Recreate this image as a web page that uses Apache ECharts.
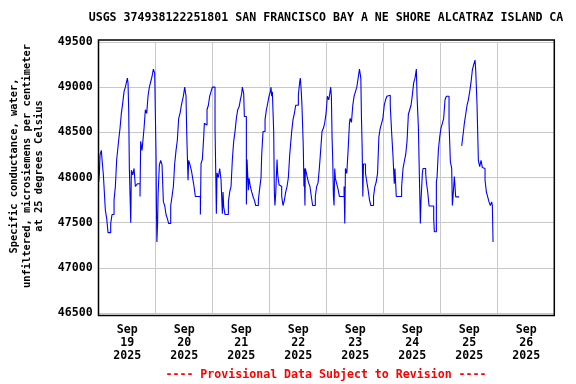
<!DOCTYPE html>
<html><head><meta charset="utf-8">
<script src="https://cdn.jsdelivr.net/npm/echarts@6/dist/echarts.min.js"></script>
<style>html,body{margin:0;padding:0;background:#fff}#c{width:576px;height:384px}</style>
</head><body><div id="c"></div>
<script>
const titleText = 'USGS 374938122251801 SAN FRANCISCO BAY A NE SHORE ALCATRAZ ISLAND CA';
const footerText = '---- Provisional Data Subject to Revision ----';
const yAxisNameLines = ['Specific conductance, water,', 'unfiltered, microsiemens per centimeter', 'at 25 degrees Celsius'];
const dayLabels = ['Sep\n19\n2025','Sep\n20\n2025','Sep\n21\n2025','Sep\n22\n2025','Sep\n23\n2025','Sep\n24\n2025','Sep\n25\n2025','Sep\n26\n2025'];
// hours since Sep 19 2025 00:00
const obsHours = [0,0.3,0.56,1.12,1.4,1.96,2.8,3.37,3.93,5.05,5.61,6.46,7.02,7.58,8.42,8.98,9.54,10.1,10.67,11.23,12.07,12.35,12.63,12.91,13.5,13.75,14.32,14.88,15.44,16.28,17.4,17.68,18.25,19.09,19.65,20.21,20.77,21.33,21.9,22.46,23.02,23.58,24.14,24.3,24.5,24.8,24.98,25.54,26.1,26.67,27.23,27.79,28.35,28.91,29.47,30.32,30.88,31.44,32.0,32.56,33.12,33.68,34.25,34.81,35.65,36.21,36.49,36.77,37.05,37.61,37.89,38.46,39.02,39.58,40.14,40.7,42.81,43.09,43.65,44.21,44.49,45.05,45.61,46.18,46.74,47.3,47.86,48.98,49.26,49.54,49.82,50.39,50.95,51.51,52.07,52.35,52.63,53.19,54.6,55.16,55.72,56.28,56.84,57.4,57.96,58.53,59.09,59.65,60.21,60.49,61.05,61.33,62.18,62.46,63.02,63.3,63.86,64.42,64.98,65.54,66.11,67.23,67.79,68.35,68.63,69.19,70.04,70.6,71.16,71.72,72.28,72.56,72.84,73.12,73.68,73.96,74.2,74.53,75.09,75.37,75.93,76.49,77.05,77.61,78.18,78.74,79.3,79.86,80.42,81.26,81.82,82.39,82.95,84.07,84.63,84.91,85.3,85.58,86.14,86.42,86.56,86.84,87.0,87.27,87.83,88.39,88.96,89.52,90.08,91.21,91.77,92.34,92.9,93.46,94.03,94.59,95.15,95.72,96.0,96.28,96.85,97.13,97.69,97.97,98.25,98.54,98.82,99.1,99.38,99.66,100.23,100.79,101.35,103.32,103.61,103.89,104.45,105.01,105.58,105.86,106.42,106.99,107.55,108.11,108.68,109.24,109.8,110.37,110.65,110.93,111.21,111.49,112.34,112.9,113.46,114.03,114.59,115.72,116.28,116.85,117.41,117.97,118.54,119.1,119.66,120.23,120.79,121.35,121.92,122.76,123.32,123.89,124.45,124.73,125.3,127.55,128.14,128.7,129.26,129.82,130.39,130.95,131.51,132.07,132.63,133.19,133.75,134.04,134.6,135.16,135.44,135.72,136.28,136.56,137.68,137.96,138.53,139.09,141.05,141.33,142.18,142.46,143.02,143.58,144.14,144.7,145.26,145.82,146.39,147.51,148.07,148.63,148.91,149.19,149.75,150.32,151.72,151.8,152.84,153.4,153.96,154.53,155.09,155.65,156.21,156.77,157.33,157.89,158.46,158.74,159.3,159.86,160.42,160.98,161.54,162.11,162.67,163.23,163.79,164.35,164.91,165.47,165.75,166.04];
const obsValues = [47950,48050,48250,48300,48200,48030,47640,47545,47390,47490,47590,47750,47900,48200,48415,48545,48710,48820,48950,49000,49100,49045,48750,48100,47500,48080,48030,48100,47900,47930,47790,48400,48300,48545,48750,48710,48900,49000,49060,49120,49200,49155,48250,47700,47285,47500,47790,48140,48190,48140,47730,47690,47590,47545,47490,47690,47790,47900,48155,48300,48415,48655,48710,48800,48900,49000,48950,48900,48510,47970,48190,48140,48080,47990,47900,47790,47590,48155,48200,48450,48600,48580,48750,48800,48900,48950,49000,48545,48100,47600,48050,48000,48100,47970,47600,47840,47675,47590,47730,47840,47900,48200,48400,48510,48655,48750,48780,48860,48930,49000,48930,48675,47700,48200,47860,47990,47900,47840,47790,47750,47690,47750,47880,48000,48250,48510,48640,48750,48820,48900,48950,49000,48900,48950,48510,47840,47690,47820,48200,48030,47920,47900,47790,47690,47750,47840,47900,48000,48250,48510,48640,48710,48800,48910,49060,49100,48950,48800,48340,47900,48100,47690,48100,48070,48000,47940,47900,47790,47690,47790,47900,47940,48100,48300,48510,48545,48600,48710,48800,48900,48860,48900,49000,48900,48450,48200,47800,47690,48100,47990,47930,47870,47790,47900,47490,48100,48045,48300,48600,48655,48610,48800,48900,48950,49000,49100,49200,49100,48640,48340,47790,48150,48045,47950,47860,47750,47690,47790,47900,47950,48045,48450,48545,48600,48655,48800,48860,48900,48910,48800,48510,48250,47930,48100,47790,47900,48100,48180,48255,48400,48700,48750,48800,48915,49050,49100,49200,48900,48560,47840,47490,47750,48045,48100,48045,47950,47840,47685,47545,47400,47950,48000,48300,48450,48550,48600,48655,48860,48900,48600,48175,48100,47690,47785,48010,47785,47785,null,48350,48470,48600,48700,48800,48860,48950,49055,49190,49250,49300,49190,48800,48190,48120,48190,48110,48100,47970,47840,47785,47730,47690,47730,47690,47285];

const FONT = '"DejaVu Sans Mono", monospace';
const FS = 11.6;
const seriesData = obsHours.map((h, i) => [h, obsValues[i]]);

const chart = echarts.init(document.getElementById('c'), null, {renderer: 'canvas'});
chart.setOption({
  animation: false,
  backgroundColor: '#ffffff',
  grid: {left: 98.7, right: 21.3, top: 42, bottom: 71, containLabel: false},
  xAxis: [
    {type: 'value', min: 0, max: 192, interval: 24,
     axisLine: {show: false}, axisTick: {show: false}, axisLabel: {show: false},
     splitLine: {show: true, lineStyle: {color: '#c8c8c8', width: 1}}},
    {type: 'category', data: dayLabels, position: 'bottom', boundaryGap: true,
     axisLine: {show: false}, axisTick: {show: false}, splitLine: {show: false},
     axisLabel: {show: true, interval: 0, margin: 10, color: '#000', fontFamily: FONT, fontWeight: 'bold', fontSize: FS, lineHeight: 13}}
  ],
  yAxis: {type: 'value', min: 46500, max: 49500, interval: 500,
    axisLine: {show: false}, axisTick: {show: false},
    axisLabel: {margin: 6, color: '#000', fontFamily: FONT, fontWeight: 'bold', fontSize: FS,
      formatter: v => String(Math.round(v))},
    splitLine: {show: true, lineStyle: {color: '#c8c8c8', width: 1}}},
  series: [{
    type: 'line', xAxisIndex: 0, data: seriesData, step: 'end', showSymbol: false, symbol: 'none',
    connectNulls: false, lineStyle: {color: '#0000ff', width: 1.1}, z: 3
  }],
  graphic: [
    {type: 'rect', z: 100, silent: true, shape: {x: 98.5, y: 40, width: 455.8, height: 275.5},
     style: {fill: null, stroke: '#000', lineWidth: 1.5}},
    {type: 'text', x: 326, y: 18, z: 100, style: {text: titleText, textAlign: 'center', textVerticalAlign: 'middle', fill: '#000', font: 'bold ' + FS + 'px ' + FONT}},
    {type: 'text', x: 326, y: 375, z: 100, style: {text: footerText, textAlign: 'center', textVerticalAlign: 'middle', fill: '#ff0000', font: 'bold ' + FS + 'px ' + FONT}},
    {type: 'text', x: 27, y: 166, rotation: Math.PI / 2, z: 100,
     style: {text: yAxisNameLines.join('\n'), textAlign: 'center', textVerticalAlign: 'middle', lineHeight: 12.5, fill: '#000', font: 'bold 10.4px ' + FONT}}
  ]
});
</script>
</body></html>
